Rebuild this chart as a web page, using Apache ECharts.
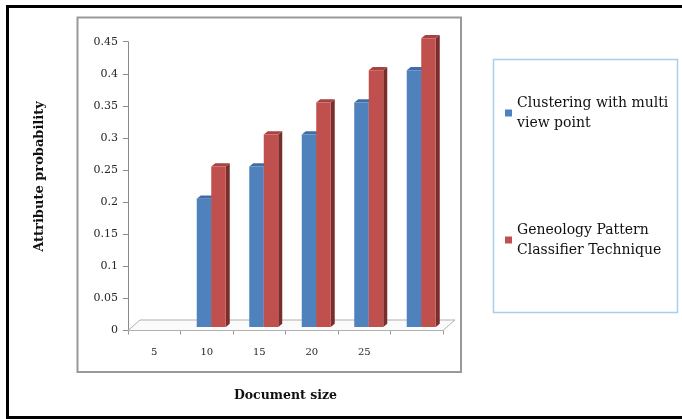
<!DOCTYPE html>
<html>
<head>
<meta charset="utf-8">
<script src="https://cdn.jsdelivr.net/npm/echarts@6/dist/echarts.min.js"></script>
<style>
  html, body { margin: 0; padding: 0; background: #fff; }
  #chart { width: 682px; height: 419px; }
</style>
</head>
<body>
<div id="chart"></div>
<script>
// Document sizes along the x axis (the last group carries no label)
const categories = ['5', '10', '15', '20', '25', ''];
// Attribute probability per document size
const clusteringValues = [0, 0.2, 0.25, 0.3, 0.35, 0.4];
const geneologyValues = [0, 0.25, 0.3, 0.35, 0.4, 0.45];
// Value axis ticks
const yMin = 0, yMax = 0.45, yStep = 0.05;
const seriesNames = ['Clustering with multi viewpoint', 'Geneology Pattern Classifier Technique'];
const legendText = {
  'Clustering with multi viewpoint': 'Clustering with multi\nview point',
  'Geneology Pattern Classifier Technique': 'Geneology Pattern\nClassifier Technique'
};

const chart = echarts.init(document.getElementById('chart'), null, { renderer: 'canvas' });

// Pseudo-3D geometry (pixels)
const BAR_W = 14.5, BAR_DX = 4.5, BAR_DY = -3.5, SIDE_DX = 4, SIDE_DY = -3.2;
const FLOOR_DX = 12, FLOOR_DY = -10.5;
const SERIF = 'DejaVu Serif';

const blueShades = { front: '#4f81bd', top: '#3f6da6', side: '#385d8a' };
const redShades = { front: '#c0504d', top: '#a64441', side: '#7a2e2c' };

function bar3d(slot, shades) {
  return function (params, api) {
    const cat = api.value(0), val = api.value(1);
    if (!val) return null;
    const base = api.coord([cat, 0]);
    const top = api.coord([cat, val]);
    const x0 = base[0] + BAR_DX + (slot - 1) * BAR_W;
    const x1 = x0 + BAR_W;
    const yb = base[1] + BAR_DY;
    const yt = top[1] + BAR_DY;
    return {
      type: 'group',
      children: [
        { type: 'polygon', shape: { points: [[x1, yb], [x1 + SIDE_DX, yb + SIDE_DY], [x1 + SIDE_DX, yt + SIDE_DY], [x1, yt]] }, style: { fill: shades.side } },
        { type: 'polygon', shape: { points: [[x0, yt], [x1, yt], [x1 + SIDE_DX, yt + SIDE_DY], [x0 + SIDE_DX, yt + SIDE_DY]] }, style: { fill: shades.top } },
        { type: 'rect', shape: { x: x0, y: yt, width: BAR_W, height: yb - yt }, style: { fill: shades.front } }
      ]
    };
  };
}

function floor(params, api) {
  const cs = params.coordSys;
  const yb = cs.y + cs.height;
  return {
    type: 'polygon',
    shape: { points: [[cs.x, yb], [cs.x + cs.width, yb], [cs.x + cs.width + FLOOR_DX, yb + FLOOR_DY], [cs.x + FLOOR_DX, yb + FLOOR_DY]] },
    style: { fill: '#fbfbfb', stroke: '#b0b0b0', lineWidth: 1 }
  };
}

const option = {
  animation: false,
  backgroundColor: '#fff',
  grid: { left: 128, top: 41.7, width: 315, height: 288.8 },
  xAxis: {
    type: 'category',
    data: categories,
    boundaryGap: true,
    name: 'Document size',
    nameLocation: 'middle',
    nameGap: 59,
    nameTextStyle: { fontFamily: SERIF, fontWeight: 'bold', fontSize: 12.5, color: '#111' },
    axisLine: { lineStyle: { color: '#9a9a9a' } },
    axisTick: { show: true, interval: 0, length: 4, lineStyle: { color: '#9a9a9a' } },
    axisLabel: { interval: 0, margin: 17, fontFamily: SERIF, fontSize: 10, color: '#262626' },
    splitLine: { show: false }
  },
  yAxis: {
    type: 'value',
    min: yMin, max: yMax, interval: yStep,
    axisLine: { show: true, lineStyle: { color: '#8a8a8a' } },
    axisTick: { show: true, length: 5, lineStyle: { color: '#8a8a8a' } },
    axisLabel: { margin: 10, fontFamily: SERIF, fontSize: 11, color: '#262626' },
    splitLine: { show: false }
  },
  legend: {
    data: seriesNames,
    orient: 'vertical',
    left: 505, top: 83,
    padding: 0,
    icon: 'rect',
    itemWidth: 7, itemHeight: 7,
    itemGap: 67,
    formatter: function (name) { return legendText[name]; },
    textStyle: { fontFamily: SERIF, fontSize: 14, color: '#111', lineHeight: 20, padding: [20, 0, 0, 0] }
  },
  graphic: [
    { type: 'rect', z: -10, shape: { x: 7.5, y: 6.5, width: 700, height: 411 }, style: { fill: 'none', stroke: '#000', lineWidth: 3 } },
    { type: 'rect', z: -10, shape: { x: 77.5, y: 17.5, width: 383.5, height: 354.5 }, style: { fill: 'none', stroke: '#999', lineWidth: 2 } },
    { type: 'rect', z: -10, shape: { x: 493.5, y: 59.5, width: 184, height: 253 }, style: { fill: 'none', stroke: '#a9cdec', lineWidth: 1.5 } },
    {
      type: 'text', x: 40, y: 176.5, rotation: Math.PI / 2,
      style: { text: 'Attribute probability', fontFamily: SERIF, fontWeight: 'bold', fontSize: 13, fill: '#111', align: 'center', verticalAlign: 'middle' }
    }
  ],
  series: [
    { type: 'custom', name: 'floor', renderItem: floor, data: [[0, 0]], z: 1, silent: true },
    {
      type: 'custom', name: seriesNames[0], renderItem: bar3d(0, blueShades),
      itemStyle: { color: blueShades.front }, encode: { x: 0, y: 1 }, z: 2,
      data: clusteringValues.map((v, i) => [i, v])
    },
    {
      type: 'custom', name: seriesNames[1], renderItem: bar3d(1, redShades),
      itemStyle: { color: redShades.front }, encode: { x: 0, y: 1 }, z: 2,
      data: geneologyValues.map((v, i) => [i, v])
    }
  ]
};

chart.setOption(option);
</script>
</body>
</html>
